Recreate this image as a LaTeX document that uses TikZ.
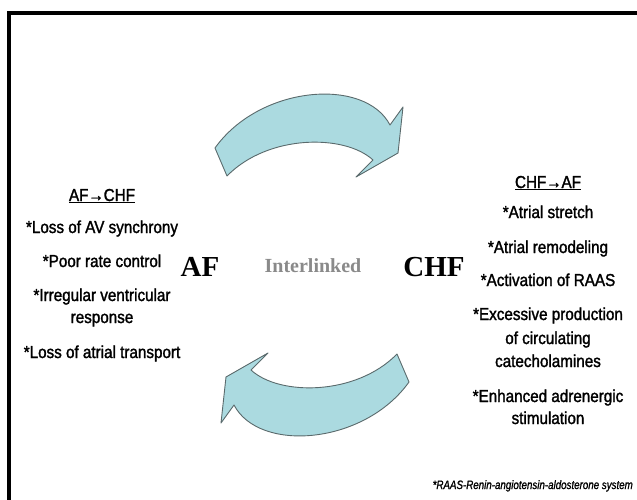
\documentclass[tikz,border=0pt]{standalone}
\usepackage{fontspec}
\newfontfamily\narf[FakeStretch=0.88,FakeBold=1.6]{Liberation Sans}
\newfontfamily\footf[FakeStretch=0.8,FakeBold=1.2]{Liberation Sans}
\newfontfamily\serf{Liberation Serif}
\definecolor{arrowcyan}{HTML}{ABDAE0}
\definecolor{arrowedge}{HTML}{5A6A6C}
\definecolor{linkgray}{HTML}{8A8A8A}
\begin{document}
\begin{tikzpicture}[x=1pt,y=-1pt,
  txt/.style={font=\narf\fontsize{17.3}{19}\selectfont, anchor=base, inner sep=0pt},
  big/.style={font=\serf\bfseries\fontsize{29}{30}\selectfont, anchor=base, inner sep=0pt},
  arrowshape/.style={fill=arrowcyan, draw=arrowedge, line width=0.9pt, line join=round}]
\useasboundingbox (0,0) rectangle (637,500);
\fill[white] (0,0) rectangle (637,500);
% frame
\coordinate (fa) at (9,500);
\coordinate (fb) at (9,13);
\coordinate (fc) at (637,13);
\draw[line width=4pt] (fa) -- (fb) -- (fc);
% arrows
\path[arrowshape] (215,148) .. controls (260,85) and (365,77) .. (390,125) -- (403,107) -- (398,153) -- (356,177) -- (373,160) .. controls (345,134) and (268,134) .. (227,176) -- cycle;
\begin{scope}[rotate around={180:(312,265)}]
\path[arrowshape] (215,148) .. controls (260,85) and (365,77) .. (390,125) -- (403,107) -- (398,153) -- (356,177) -- (373,160) .. controls (345,134) and (268,134) .. (227,176) -- cycle;
\end{scope}
% centre words
\node[big] (af) at (200,276) {AF};
\node[big] (chf) at (434,276) {CHF};
\node[font=\serf\bfseries\fontsize{20}{22}\selectfont, text=linkgray, anchor=base, inner sep=0pt] (il) at (313,272) {Interlinked};
% left column
\node[txt] (l0) at (102,201) {\underline{AF→CHF}};
\node[txt] (l1) at (102,233) {*Loss of AV synchrony};
\node[txt] (l2) at (102,267) {*Poor rate control};
\node[txt] (l3) at (102,301) {*Irregular ventricular};
\node[txt] (l4) at (102,323) {response};
\node[txt] (l5) at (102,358) {*Loss of atrial transport};
% right column
\node[txt] (r0) at (548,188) {\underline{CHF→AF}};
\node[txt] (r1) at (548,218) {*Atrial stretch};
\node[txt] (r2) at (548,253) {*Atrial remodeling};
\node[txt] (r3) at (548,286) {*Activation of RAAS};
\node[txt] (r4) at (548,320) {*Excessive production};
\node[txt] (r5) at (548,344) {of circulating};
\node[txt] (r6) at (548,367) {catecholamines};
\node[txt] (r7) at (548,402) {*Enhanced adrenergic};
\node[txt] (r8) at (548,424) {stimulation};
% footnote
\node[font=\footf\itshape\fontsize{12.2}{13}\selectfont, anchor=base east, inner sep=0pt] (fn) at (633,489) {*RAAS-Renin-angiotensin-aldosterone system};
\end{tikzpicture}
\end{document}
